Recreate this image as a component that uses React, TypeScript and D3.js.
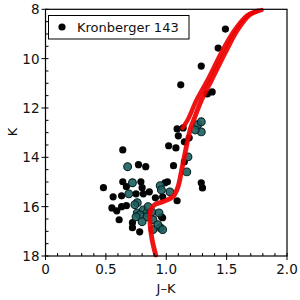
import React from 'react';
import * as d3 from 'd3';

const width = 300;
const height = 300;
const left = 45.5;
const right = 287;
const top = 9.3;
const bottom = 256;

// cluster members, J-K and K
const blackJK = [1.49, 1.43, 1.29, 1.12, 1.38, 1.34, 1.09, 1.10, 1.02, 1.08, 1.15, 1.19, 1.15, 1.06, 1.29, 1.30, 1.01, 0.99, 1.09, 0.97, 0.91, 0.86, 0.97, 0.96,
  0.64, 0.77, 0.83, 0.48, 0.64, 0.67, 0.79, 0.80, 0.56, 0.63, 0.75, 0.81, 0.55, 0.59, 0.63, 0.67, 0.61, 0.72, 0.72, 0.78, 1.14];
const blackK = [8.80, 9.57, 10.30, 11.06, 11.35, 11.43, 12.85, 13.13, 13.53, 13.62, 13.37, 13.21, 14.18, 14.34, 15.03, 15.24, 14.99, 15.03, 15.76, 15.60, 15.64, 15.40, 16.45, 16.41,
  13.70, 14.30, 14.38, 15.23, 14.99, 15.19, 14.99, 15.23, 15.60, 15.56, 15.48, 15.48, 16.05, 16.17, 16.00, 15.96, 16.53, 16.65, 16.85, 17.02, 12.81];

const tealJK = [1.26, 1.29, 1.29, 1.24, 1.18, 1.17, 0.95, 1.03, 0.94, 0.89, 0.95, 0.89, 0.68, 0.72, 0.69, 0.76, 0.76, 0.81, 0.84, 0.74, 0.85, 0.78, 0.75, 0.84, 0.88, 0.80, 0.93, 0.97, 0.96];
const tealK = [12.68, 12.56, 12.97, 12.89, 13.98, 14.59, 15.15, 15.40, 16.25, 16.53, 16.85, 16.93, 14.38, 15.03, 15.48, 15.84, 16.25, 16.13, 16.25, 15.92, 16.00, 16.33, 16.41, 16.41, 16.21, 16.61, 16.73, 16.93, 15.32];

// isochrone: giant branch and AGB
const rgbJK = [0.913, 0.880, 0.864, 0.872, 0.905, 0.971, 1.054, 1.095, 1.128, 1.161, 1.202, 1.227, 1.293, 1.376, 1.50, 1.59, 1.69, 1.756];
const rgbK = [17.96, 17.26, 16.45, 16.13, 15.92, 15.80, 15.60, 15.23, 14.51, 13.70, 12.81, 12.49, 11.67, 10.86, 9.65, 8.84, 8.23, 8.07];
const agbJK = [1.136, 1.178, 1.252, 1.343, 1.467, 1.566, 1.674, 1.79];
const agbK = [12.81, 12.48, 11.67, 10.86, 9.65, 8.84, 8.23, 8.03];

const xTicks = [0, 0.5, 1, 1.5, 2];
const xLabels = ['0', '0.5', '1.0', '1.5', '2.0'];
const yTicks = [8, 10, 12, 14, 16, 18];

const x = d3.scaleLinear().domain([0, 2]).range([left, right]);
const y = d3.scaleLinear().domain([8, 18]).range([top, bottom]);

const line = d3.line<[number, number]>()
  .x(d => x(d[0]))
  .y(d => y(d[1]))
  .curve(d3.curveCatmullRom);

const font = '"DejaVu Sans", sans-serif';

const App = () => {
  const xMinor = d3.range(0, 2.001, 0.1);
  const yMinor = d3.range(8, 18.001, 0.5);
  const rgb = rgbJK.map((v, i) => [v, rgbK[i]] as [number, number]);
  const agb = agbJK.map((v, i) => [v, agbK[i]] as [number, number]);

  return (
    <svg width={width} height={height} style={{ position: 'absolute', left: 0, top: 0 }}>
      <rect x={0} y={0} width={width} height={height} fill="#fff" />

      {blackJK.map((v, i) => (
        <circle key={'b' + i} cx={x(v)} cy={y(blackK[i])} r={3.6} fill="#050505" />
      ))}
      {tealJK.map((v, i) => (
        <circle key={'t' + i} cx={x(v)} cy={y(tealK[i])} r={3.9} fill="#1d5e5e" fillOpacity={0.9} stroke="#082424" strokeWidth={1.1} />
      ))}

      <path d={line(rgb) || ''} fill="none" stroke="#ee0000" strokeWidth={4.8} strokeLinecap="round" strokeOpacity={0.92} />
      <path d={line(agb) || ''} fill="none" stroke="#ee0000" strokeWidth={4.4} strokeLinecap="round" strokeOpacity={0.92} />

      {/* frame */}
      <rect x={left} y={top} width={right - left} height={bottom - top} fill="none" stroke="#000" strokeWidth={1.2} />

      {xMinor.map((t, i) => (
        <line key={'xm' + i} x1={x(t)} x2={x(t)} y1={bottom} y2={bottom - 3} stroke="#000" />
      ))}
      {xTicks.map((t, i) => (
        <g key={'x' + i}>
          <line x1={x(t)} x2={x(t)} y1={bottom} y2={bottom + 4} stroke="#000" />
          <text x={x(t)} y={bottom + 18} textAnchor="middle" fontSize={13.5} fontFamily={font} fill="#111">{xLabels[i]}</text>
        </g>
      ))}
      {yMinor.map((t, i) => (
        <line key={'ym' + i} x1={left} x2={left + 3} y1={y(t)} y2={y(t)} stroke="#000" />
      ))}
      {yTicks.map((t, i) => (
        <g key={'y' + i}>
          <line x1={left - 4} x2={left} y1={y(t)} y2={y(t)} stroke="#000" />
          <text x={left - 6} y={y(t) + 5} textAnchor="end" fontSize={13.5} fontFamily={font} fill="#111">{t}</text>
        </g>
      ))}

      <text x={166} y={293} textAnchor="middle" fontSize={13} fontFamily={font} fill="#111">J–K</text>
      <text transform="translate(17,132) rotate(-90)" textAnchor="middle" fontSize={13} fontFamily={font} fill="#111">K</text>

      {/* legend */}
      <rect x={48.5} y={15.5} width={140.5} height={23.5} fill="#fff" stroke="#000" strokeWidth={1} />
      <circle cx={62} cy={27} r={3.6} fill="#050505" />
      <text x={77} y={32} fontSize={13} fontFamily={font} fill="#111">Kronberger 143</text>
    </svg>
  );
};

export default App;
